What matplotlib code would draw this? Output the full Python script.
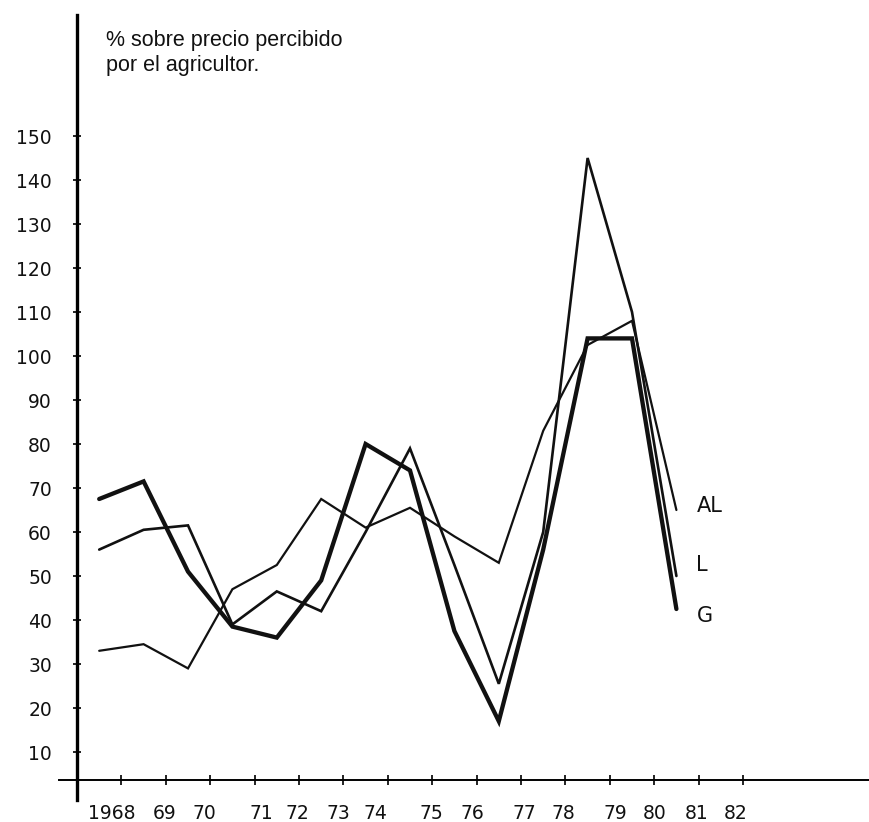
import matplotlib
matplotlib.use('Agg')
import matplotlib.pyplot as plt

# crop years 1967/68 ... 1980/81, plotted between the year ticks
years = [1967.5 + i for i in range(14)]
G = [67.5, 71.5, 51, 38.5, 36, 49, 80, 74, 37.5, 17, 56, 104, 104, 42.5]
L = [56, 60.5, 61.5, 39, 46.5, 42, 60, 79, 52.5, 25.5, 60, 145, 110, 50]
AL = [33, 34.5, 29, 47, 52.5, 67.5, 61, 65.5, 59, 53, 83, 102.5, 108, 65]

tick_years = list(range(1968, 1983))
tick_labels = ['1968'] + [str(y)[2:] for y in tick_years[1:]]
y_ticks = list(range(10, 160, 10))

series_names = ['AL', 'L', 'G']
series_label_y = [66, 52.5, 41]

# hand lettering under the axis is not exactly below each tick (pixels)
label_shift = [-10, -1, -6, 7, -2, -5, -12, -1, -4, 3, -2, 6, 0, -2, -7]

W, H = 870, 822
px_year = 44.4
px_unit = 4.4
axis_x = 77          # pixel column of the vertical axis
y150 = 136           # pixel row of the 150 tick

fig = plt.figure(figsize=(W / 100, H / 100), dpi=100)
ax = fig.add_axes([0, 0, 1, 1])
ax.set_xlim(1967 - axis_x / px_year, 1967 + (W - axis_x) / px_year)
ax.set_ylim(150 - (H - y150) / px_unit, 150 + y150 / px_unit)

ax.plot(years, AL, color='#111111', lw=1.6, solid_capstyle='round', solid_joinstyle='miter')
ax.plot(years, L, color='#111111', lw=1.9, solid_capstyle='round', solid_joinstyle='miter')
ax.plot(years, G, color='#111111', lw=3.1, solid_capstyle='round', solid_joinstyle='miter')

for s in ['top', 'right']:
    ax.spines[s].set_visible(False)
ax.spines['left'].set_position(('data', 1967))
ax.spines['left'].set_bounds(-1, 177.5)
ax.spines['left'].set_linewidth(2.4)
ax.spines['bottom'].set_position(('data', 3.6))
ax.spines['bottom'].set_bounds(1966.6, 1967 + (W - axis_x) / px_year)
ax.spines['bottom'].set_linewidth(1.4)
ax.patch.set_visible(False)

ax.set_yticks(y_ticks)
ax.set_yticklabels([str(v) for v in y_ticks], fontsize=13.5, family='DejaVu Sans')
ax.tick_params(axis='y', direction='inout', length=6, width=1.3, pad=15, colors='#111111')

ax.set_xticks(tick_years)
ax.set_xticklabels([])
ax.tick_params(axis='x', direction='inout', length=7, width=1.3, colors='#111111')

for yr, lab, dx in zip(tick_years, tick_labels, label_shift):
    ax.text(yr + dx / px_year, -3.9, lab, ha='center', va='center',
            fontsize=13.5, color='#111111', family='DejaVu Sans')

for name, ly in zip(series_names, series_label_y):
    ax.text(1980.95, ly, name, ha='left', va='center', fontsize=15,
            color='#111111', family='DejaVu Sans')

fig.text(106 / W, 1 - 53 / H, '% sobre precio percibido\npor el agricultor.',
         ha='left', va='center', fontsize=15.5, linespacing=1.2,
         color='#111111', family='Liberation Sans')

fig.savefig('out.png', dpi=100, facecolor='white')
